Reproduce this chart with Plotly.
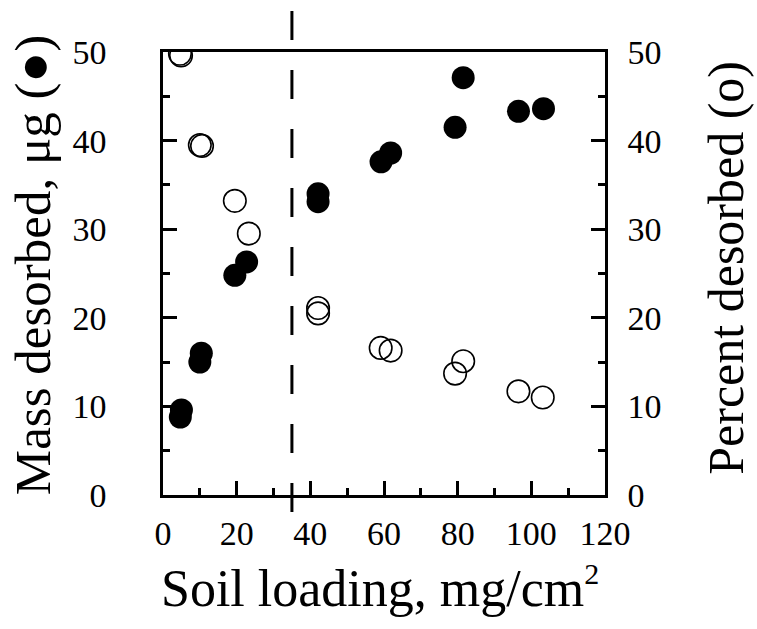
import plotly.graph_objects as go

# Soil loading (mg/cm2) and mass desorbed (ug) - filled circles, left axis
mass_x = [4.7, 5.0, 10.0, 10.4, 19.5, 22.7, 42.1, 42.1, 59.2, 61.8, 79.3, 81.5, 96.5, 103.3]
mass_y = [8.8, 9.6, 15.0, 16.0, 24.8, 26.3, 33.1, 34.0, 37.6, 38.6, 41.5, 47.1, 43.3, 43.6]

# Soil loading (mg/cm2) and percent desorbed (%) - open circles, right axis
pct_x = [4.6, 4.9, 10.0, 10.6, 19.5, 23.3, 42.1, 42.1, 59.1, 61.8, 79.3, 81.5, 96.5, 103.1]
pct_y = [49.8, 49.6, 39.5, 39.4, 33.2, 29.5, 21.1, 20.5, 16.6, 16.3, 13.7, 15.1, 11.7, 11.0]

divider_x = 35

x_ticks = [0, 20, 40, 60, 80, 100, 120]
y_ticks = [0, 10, 20, 30, 40, 50]

x_title = "Soil loading, mg/cm<sup><span style='font-size:30px'>2</span></sup>"
y_title = "Mass desorbed, μg (●)"
y2_title = "Percent desorbed (o)"

FONT = "Liberation Serif"

fig = go.Figure()
fig.add_trace(go.Scatter(
    x=mass_x, y=mass_y, mode="markers",
    marker=dict(symbol="circle", size=23, color="black", line=dict(width=0)),
    yaxis="y", showlegend=False, hoverinfo="skip"))
fig.add_trace(go.Scatter(
    x=pct_x, y=pct_y, mode="markers",
    marker=dict(symbol="circle-open", size=22.5, color="black", line=dict(width=1.6)),
    yaxis="y2", showlegend=False, hoverinfo="skip"))

fig.add_shape(type="line", xref="x", yref="paper",
              x0=divider_x, x1=divider_x, y0=-0.0384, y1=1.0926,
              line=dict(color="black", width=3, dash="29px,30px"))

common = dict(
    showgrid=False, zeroline=False, showline=True, linecolor="black", linewidth=2.5,
    ticks="inside", ticklen=14, tickwidth=2.5, tickcolor="black", automargin=False,
    tickfont=dict(family=FONT, size=34, color="black"),
)
minor = dict(ticks="inside", ticklen=7, tickwidth=2.5, tickcolor="black")

fig.update_layout(
    width=757, height=629,
    margin=dict(l=163, r=152, t=52, b=134),
    paper_bgcolor="white", plot_bgcolor="white",
    font=dict(family=FONT, color="black"),
    xaxis=dict(range=[0, 120], tickvals=x_ticks, mirror=True,
               minor=dict(dtick=10, **minor), ticklabelstandoff=6, **common),
    yaxis=dict(range=[0, 50], tickvals=y_ticks,
               minor=dict(dtick=5, **minor), ticklabelstandoff=47, **common),
    yaxis2=dict(range=[0, 50], tickvals=y_ticks, overlaying="y", side="right",
                minor=dict(dtick=5, **minor), ticklabelstandoff=13, **common),
)

fig.add_annotation(text=x_title, xref="paper", yref="paper", x=0.491, y=-0.208,
                   xanchor="center", yanchor="middle", showarrow=False,
                   font=dict(family=FONT, size=52, color="black"))
fig.add_annotation(text=y_title, xref="paper", yref="paper", x=-0.294, y=0.519,
                   xanchor="center", yanchor="middle", textangle=-90, showarrow=False,
                   font=dict(family=FONT, size=51, color="black"))
fig.add_annotation(text=y2_title, xref="paper", yref="paper", x=1.272, y=0.5135,
                   xanchor="center", yanchor="middle", textangle=-90, showarrow=False,
                   font=dict(family=FONT, size=50, color="black"))

fig.write_html("out.html", config={"displayModeBar": False},
               post_script="document.body.style.margin='0';document.body.style.overflow='hidden';")
